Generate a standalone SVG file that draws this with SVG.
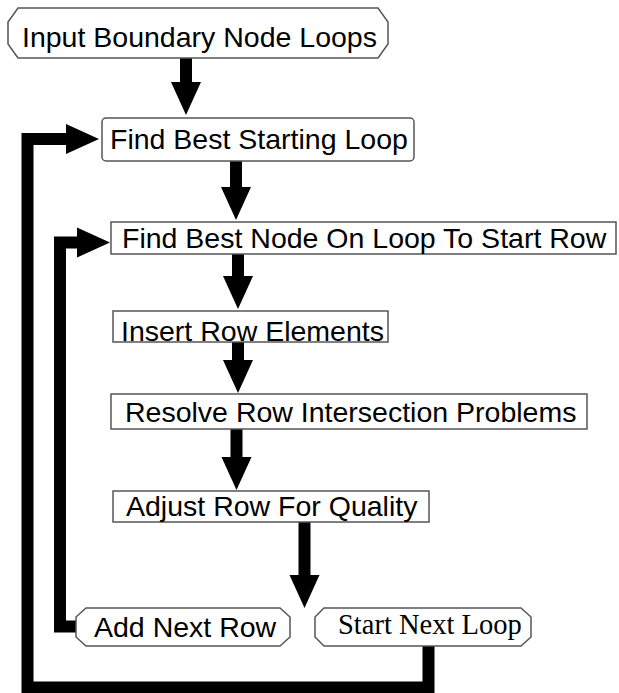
<svg xmlns="http://www.w3.org/2000/svg" width="619" height="693" viewBox="0 0 619 693">
<defs>
<style>
.box{fill:#fff;stroke:#555;stroke-width:1.5}
.t{font-family:"Liberation Sans",Arial,sans-serif;font-size:28.5px;fill:#000}
.ts{font-family:"Liberation Serif","Times New Roman",serif;font-size:28.5px;fill:#000}
.c{fill:none;stroke:#000;stroke-width:12;stroke-linejoin:miter;stroke-linecap:butt}
</style>
<marker id="ah" markerUnits="userSpaceOnUse" markerWidth="34" markerHeight="31" refX="0" refY="15" orient="auto" overflow="visible">
<path d="M0,0 L33,15 L0,30 z" fill="#000"/>
</marker>
</defs>
<rect width="619" height="693" fill="#fff"/>
<g id="connectors">
<path class="c" d="M186,58 V82" marker-end="url(#ah)"/>
<path class="c" d="M236,161 V187" marker-end="url(#ah)"/>
<path class="c" d="M238,254 V276" marker-end="url(#ah)"/>
<path class="c" d="M238,342 V360" marker-end="url(#ah)"/>
<path class="c" d="M236.5,429 V457" marker-end="url(#ah)"/>
<path class="c" d="M304.5,522 V575" marker-end="url(#ah)"/>
<path class="c" d="M428.5,646 V687.5 H27.5 V139 H66" marker-end="url(#ah)"/>
<path class="c" d="M77,626.5 H60 V242.5 H77" marker-end="url(#ah)"/>
</g>
<g id="n1">
<polygon class="box" points="18,8 378,8 388,22 388,44 378,58 18,58 8,44 8,22"/>
<text class="t" x="22" y="47">Input Boundary Node Loops</text>
</g>
<g id="n2">
<rect class="box" x="102" y="118" width="312" height="43" rx="4"/>
<text class="t" x="110" y="149">Find Best Starting Loop</text>
</g>
<g id="n3">
<rect class="box" x="111" y="222" width="505" height="32"/>
<text class="t" x="122" y="248">Find Best Node On Loop To Start Row</text>
</g>
<g id="n4">
<rect class="box" x="113" y="311" width="275" height="31"/>
<text class="t" x="121" y="341">Insert Row Elements</text>
</g>
<g id="n5">
<rect class="box" x="111" y="394" width="476" height="35"/>
<text class="t" x="125" y="422">Resolve Row Intersection Problems</text>
</g>
<g id="n6">
<rect class="box" x="113" y="491" width="316" height="31"/>
<text class="t" x="126" y="516">Adjust Row For Quality</text>
</g>
<g id="n7">
<polygon class="box" points="86,608 280,608 290,617 290,637 280,646 86,646 76,637 76,617"/>
<text class="t" x="94" y="637">Add Next Row</text>
</g>
<g id="n8">
<polygon class="box" points="324,608 521,608 531,617 531,637 521,646 324,646 315,637 315,617"/>
<text class="ts" x="338" y="634">Start Next Loop</text>
</g>
</svg>
